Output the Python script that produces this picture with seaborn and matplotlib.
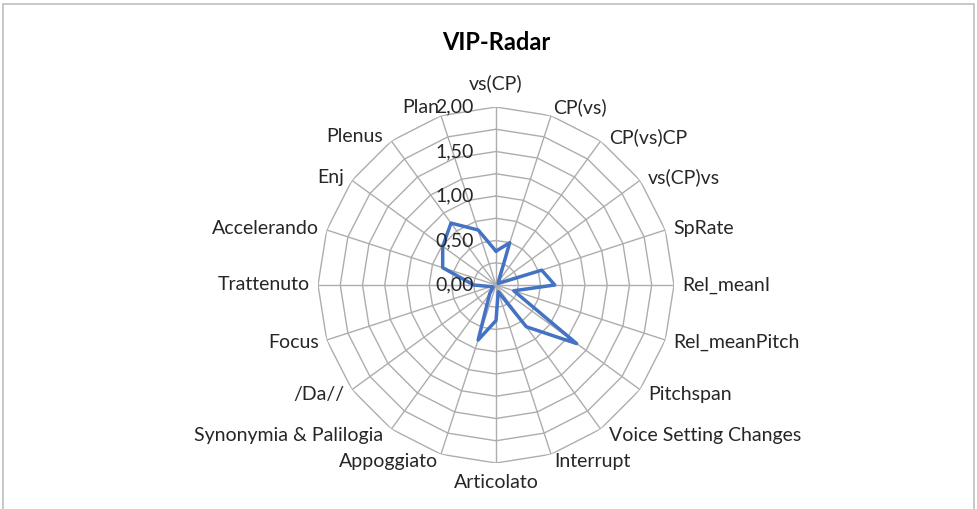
import numpy as np
import pandas as pd
import matplotlib
matplotlib.use("Agg")
import matplotlib.pyplot as plt
import matplotlib.transforms as mtransforms
from matplotlib.patches import Rectangle
import seaborn as sns

# Radar categories (clockwise from the top)
categories = [
    "vs(CP)", "CP(vs)", "CP(vs)CP", "vs(CP)vs", "SpRate", "Rel_meanI",
    "Rel_meanPitch", "Pitchspan", "Voice Setting Changes", "Interrupt",
    "Articolato", "Appoggiato", "Synonymia & Palilogia", "/Da//", "Focus",
    "Trattenuto", "Accelerando", "Enj", "Plenus", "Plan",
]
vip_scores = [
    0.38, 0.50, 0.05, 0.03, 0.54, 0.66,
    0.21, 1.12, 0.58, 0.08,
    0.40, 0.65, 0.12, 0.04, 0.06,
    0.25, 0.63, 0.74, 0.86, 0.65,
]
ring_levels = [0.25, 0.5, 0.75, 1.0, 1.25, 1.5, 1.75, 2.0]
tick_values = [0.0, 0.5, 1.0, 1.5, 2.0]
tick_labels = ["0,00", "0,50", "1,00", "1,50", "2,00"]
chart_title = "VIP-Radar"

sns.set_theme(style="white")
plt.rcParams["font.family"] = ["Lato", "DejaVu Sans"]

TEXT = "#262626"
GRID = "#ADADAD"
LINE = "#4472C4"
FS = 14

W, H = 977, 509
fig = plt.figure(figsize=(W / 100, H / 100), dpi=100)
fig.patch.set_facecolor("white")

cx, cy, R = 496, 285, 178
ax = fig.add_axes([(cx - R) / W, (H - cy - R) / H, 2 * R / W, 2 * R / H],
                  projection="polar")
ax.set_theta_zero_location("N")
ax.set_theta_direction(-1)
ax.grid(False)
ax.spines["polar"].set_visible(False)
ax.patch.set_alpha(0)

n = len(categories)
theta = np.arange(n) * 2 * np.pi / n
closed_theta = np.append(theta, 2 * np.pi)

# polygonal rings and spokes
for lvl in ring_levels:
    ax.plot(closed_theta, np.full(n + 1, lvl), color=GRID, lw=1.0, zorder=1)
for t in theta:
    ax.plot([t, t], [0, ring_levels[-1]], color=GRID, lw=1.0, zorder=1)

df = pd.DataFrame({"theta": closed_theta,
                   "score": vip_scores + [vip_scores[0]]})
sns.lineplot(data=df, x="theta", y="score", sort=False, estimator=None,
             ax=ax, color=LINE, lw=2.5, zorder=3)

ax.set_ylim(0, 2)
ax.set_xticks([])
ax.set_yticks([])
ax.set_xlabel("")
ax.set_ylabel("")

# value labels along the vertical axis
tick_tf = mtransforms.offset_copy(ax.transData, fig=fig, x=-22, y=0, units="dots")
for v, lab in zip(tick_values, tick_labels):
    ax.text(0, v, lab, transform=tick_tf, ha="right", va="center",
            fontsize=FS, color=TEXT, zorder=4)

# category labels around the outer ring
for t, name in zip(theta, categories):
    s, c = np.sin(t), np.cos(t)
    ha = "center" if abs(s) < 0.05 else ("left" if s > 0 else "right")
    if c > 0.99:
        va, dx, dy = "baseline", 0, 18
    elif c > 0.9:
        va, dx, dy = "baseline", 2 * np.sign(s), 3
    elif c < -0.99:
        va, dx, dy = "top", 0, -11
    elif c < -0.9:
        va, dx, dy = "top", 3 * np.sign(s), 1
    else:
        va, dx = "center", 8 * np.sign(s)
        dy = 5 * c if c > 0 else 8 * c
    tf = mtransforms.offset_copy(ax.transData, fig=fig, x=dx, y=dy, units="dots")
    ax.text(t, 2.0, name, transform=tf, ha=ha, va=va, fontsize=FS,
            color=TEXT, clip_on=False)

fig.text(496 / W, 1 - 42 / H, chart_title, ha="center", va="center",
         fontsize=17, fontweight="bold", color="black")

# chart frame
fig.add_artist(Rectangle((3 / W, -0.02), (974 - 3) / W, (H - 4) / H + 0.02,
                         transform=fig.transFigure, fill=False,
                         edgecolor="#BFBFBF", lw=1.2))

fig.savefig("out.png", dpi=100)
